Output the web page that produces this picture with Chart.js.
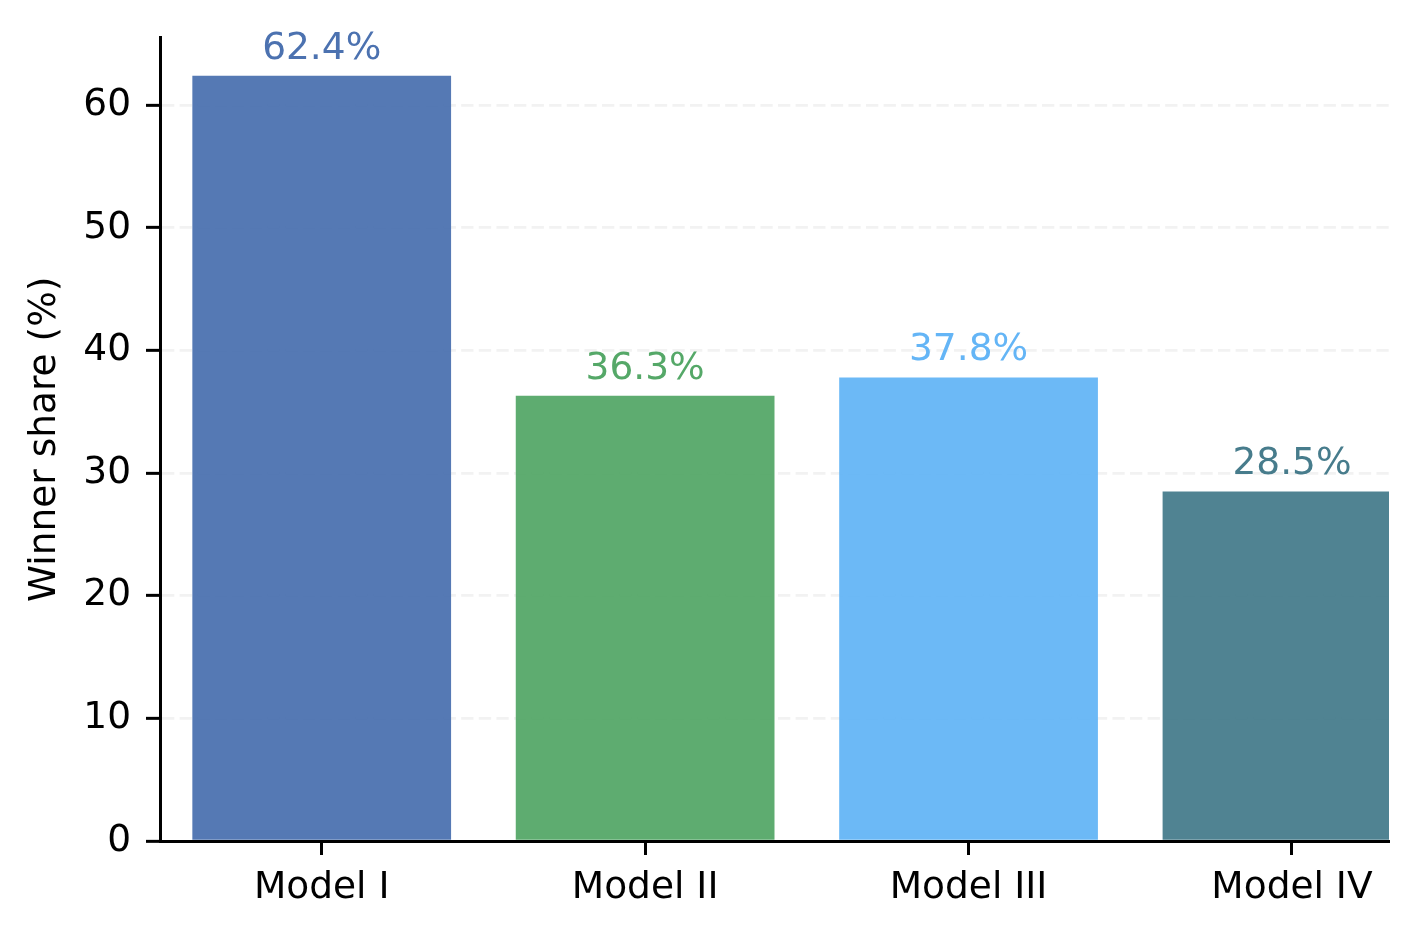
<!DOCTYPE html>
<html>
<head>
<meta charset="utf-8">
<script src="https://cdn.jsdelivr.net/npm/chart.js@4.4.1/dist/chart.umd.min.js"></script>
<style>
  html, body { margin: 0; padding: 0; background: #ffffff; }
  #wrap { width: 1418px; height: 936px; position: relative; }
</style>
</head>
<body>
<div id="wrap"><canvas id="c" width="1418" height="936"></canvas></div>
<script>
// ---- data ----
const categories = ['Model I', 'Model II', 'Model III', 'Model IV'];
const winnerShare = [62.4, 36.3, 37.8, 28.5];
const labelColors = ['#4C72B0', '#55A868', '#64B5F6', '#477C8C'];
const barColors = ['rgba(76,114,176,0.95)', 'rgba(85,168,104,0.95)', 'rgba(100,181,246,0.95)', 'rgba(71,124,140,0.95)'];
const yTicks = [0, 10, 20, 30, 40, 50, 60];
const xTicks = [0, 1, 2, 3];
const yLabel = 'Winner share (%)';
const yMin = 0, yMax = 65.52;
const xMin = -0.5, xMax = 3.3;

const FONT = "'DejaVu Sans', 'Liberation Sans', sans-serif";
const FS = 37.5;

Chart.defaults.font.family = FONT;
Chart.defaults.font.size = FS;
Chart.defaults.color = '#000';

const valueLabels = {
  id: 'valueLabels',
  afterDraw(chart) {
    const ctx = chart.ctx;
    const meta = chart.getDatasetMeta(0);
    ctx.save();
    ctx.font = FS + 'px ' + FONT;
    ctx.textAlign = 'center';
    ctx.textBaseline = 'alphabetic';
    meta.data.forEach((bar, i) => {
      ctx.fillStyle = labelColors[i];
      ctx.fillText(winnerShare[i].toFixed(1) + '%', bar.x, bar.y - 17.2);
    });
    ctx.restore();
  }
};

new Chart(document.getElementById('c'), {
  type: 'bar',
  data: {
    datasets: [{
      data: winnerShare.map((v, i) => ({ x: xTicks[i], y: v })),
      backgroundColor: barColors,
      borderWidth: 0,
      categoryPercentage: 1.0,
      barPercentage: 0.8,
      clip: 0
    }]
  },
  options: {
    responsive: false,
    animation: false,
    devicePixelRatio: 1,
    layout: { padding: { top: 36, right: 29, bottom: 0, left: 0 } },
    plugins: {
      legend: { display: false },
      tooltip: { enabled: false },
      title: { display: false }
    },
    scales: {
      x: {
        type: 'linear',
        position: 'bottom',
        min: xMin,
        max: xMax,
        bounds: 'data',
        offset: false,
        afterBuildTicks: (axis) => { axis.ticks = xTicks.map(v => ({ value: v })); },
        afterFit: (scale) => { scale.height = 95; },
        ticks: {
          autoSkip: false,
          maxRotation: 0,
          minRotation: 0,
          padding: 11,
          color: '#000',
          font: { size: FS, family: FONT },
          callback: (value) => categories[Math.round(value)]
        },
        grid: {
          display: true,
          offset: false,
          drawOnChartArea: false,
          drawTicks: true,
          tickLength: 14,
          tickWidth: 3,
          tickColor: '#000',
          color: 'rgba(0,0,0,0)'
        },
        border: { display: true, color: '#000', width: 3 }
      },
      y: {
        type: 'linear',
        position: 'left',
        min: yMin,
        max: yMax,
        z: 1,
        afterBuildTicks: (axis) => { axis.ticks = yTicks.map(v => ({ value: v })); },
        afterFit: (scale) => { scale.width = 160; },
        ticks: {
          padding: 15,
          color: '#000',
          font: { size: FS, family: FONT },
          callback: (value) => String(value)
        },
        grid: {
          display: true,
          drawOnChartArea: true,
          drawTicks: true,
          tickLength: 14,
          tickWidth: 3,
          tickColor: '#000',
          tickBorderDash: [],
          lineWidth: 2.7,
          color: (c) => (c.tick && c.tick.value === 0) ? 'rgba(0,0,0,0)' : 'rgba(190,190,190,0.2)'
        },
        border: { display: true, color: '#000', width: 3, dash: [12.3, 5.3] },
        title: {
          display: true,
          text: yLabel,
          color: '#000',
          font: { size: FS, family: FONT },
          padding: { top: 23, bottom: 0 }
        }
      }
    }
  },
  plugins: [valueLabels]
});
</script>
</body>
</html>
